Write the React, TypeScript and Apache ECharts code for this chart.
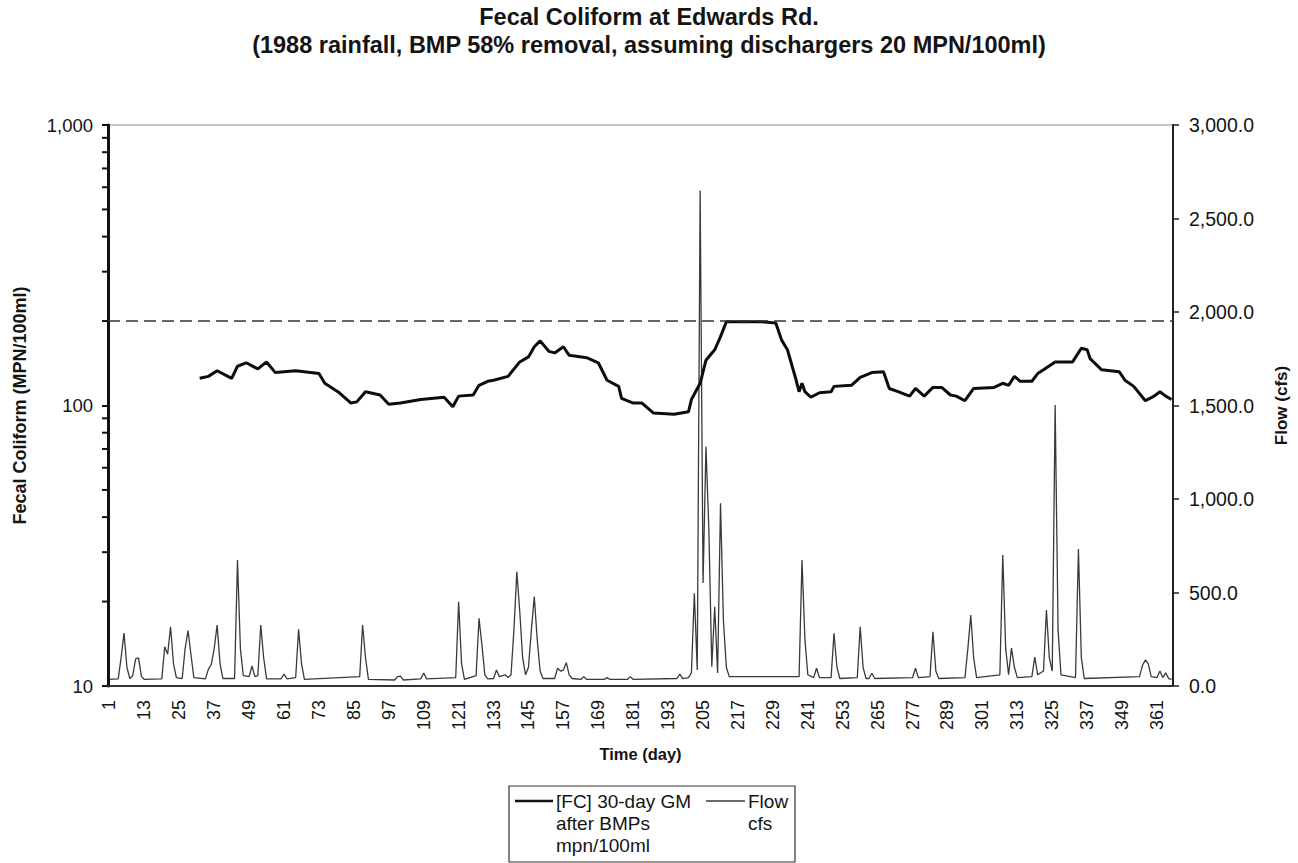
import React, { useEffect, useRef } from "react";
import * as echarts from "echarts";

const TITLE = "Fecal Coliform at Edwards Rd.";
const SUBTITLE = "(1988 rainfall, BMP 58% removal, assuming dischargers 20 MPN/100ml)";
const X_NAME = "Time (day)";
const Y_LEFT_NAME = "Fecal Coliform (MPN/100ml)";
const Y_RIGHT_NAME = "Flow (cfs)";
const FC_NAME = "[FC] 30-day GM\nafter BMPs\nmpn/100ml";
const FLOW_NAME = "Flow\ncfs";

// categories: days of 1988 (leap year)
const DAYS: string[] = Array.from({ length: 366 }, (_, i) => String(i + 1));

// water-quality standard (dashed line)
const STANDARD = 200;

// log-axis minor tick values
const FC_MINOR_TICKS = [20, 30, 40, 50, 60, 70, 80, 90, 200, 300, 400, 500, 600, 700, 800, 900];

// [day, MPN/100ml] 30-day geometric mean after BMPs
const FC_30DAY_GM: [number, number][] = [
  [32, 125], [35, 127], [38, 133], [43, 125], [45, 138], [48, 142], [52, 135], [55, 143], [58, 131], [65, 133],
  [73, 130], [75, 120], [80, 111], [84, 102], [86, 103], [89, 112], [94, 109], [97, 101], [101, 102], [108, 105],
  [116, 107], [119, 99], [121, 108], [126, 109], [128, 118], [131, 122], [133, 123], [138, 127], [142, 143], [145, 149],
  [147, 162], [149, 170], [152, 156], [154, 154], [157, 162], [159, 151], [165, 148], [169, 142], [172, 123], [176, 117],
  [177, 106], [181, 102], [184, 102], [188, 94], [195, 93], [200, 95], [201, 105], [204, 120], [206, 145], [209, 158],
  [211, 176], [213, 199], [225, 199], [230, 197], [232, 171], [234, 158], [237, 123], [238, 112], [239, 120], [240, 112],
  [242, 107], [245, 111], [249, 112], [250, 117], [256, 118], [259, 126], [263, 131], [267, 132], [269, 115], [272, 112],
  [276, 108], [278, 115], [281, 108], [284, 116], [287, 116], [290, 109], [292, 108], [295, 104], [298, 115], [305, 116],
  [308, 120], [310, 118], [312, 127], [314, 122], [318, 122], [320, 130], [322, 134], [326, 143], [332, 143], [335, 160],
  [337, 158], [338, 147], [342, 134], [348, 132], [350, 123], [353, 117], [357, 104], [360, 108], [362, 112], [364, 108],
  [366, 105],
];

// [day, cfs] daily flow
const FLOW_CFS: [number, number][] = [
  [1, 35], [4, 38], [5, 150], [6, 283], [7, 100], [8, 40], [9, 55], [10, 145], [11, 150], [12, 50], [13, 35],
  [19, 38], [20, 210], [21, 170], [22, 317], [23, 120], [24, 45], [26, 40], [27, 200], [28, 296], [29, 170], [30, 45],
  [34, 38], [35, 90], [36, 115], [37, 200], [38, 326], [39, 120], [40, 40], [44, 40], [45, 674], [46, 200], [47, 55],
  [49, 50], [50, 107], [51, 50], [52, 55], [53, 326], [54, 150], [55, 38], [60, 38], [61, 64], [62, 38],
  [65, 45], [66, 303], [67, 120], [68, 35], [87, 50], [88, 326], [89, 150], [90, 35],
  [99, 32], [100, 50], [101, 53], [102, 32], [108, 38], [109, 70], [110, 38],
  [120, 45], [121, 451], [122, 120], [123, 35], [127, 55], [128, 362], [129, 220], [130, 60], [131, 38],
  [133, 40], [134, 86], [135, 50], [137, 60], [138, 45], [139, 60], [140, 300], [141, 611], [142, 400], [143, 150], [144, 60],
  [145, 100], [146, 300], [147, 478], [148, 250], [149, 80], [150, 40], [154, 40], [155, 95], [156, 80], [157, 85], [158, 125],
  [159, 60], [160, 40], [163, 35], [164, 50], [165, 35], [171, 35], [172, 45], [173, 35], [179, 35], [180, 50], [181, 35],
  [196, 40], [197, 63], [198, 40], [200, 45], [201, 70], [202, 496], [203, 86], [204, 2650], [205, 551], [206, 1280],
  [207, 834], [208, 103], [209, 424], [210, 70], [211, 977], [212, 350], [213, 100], [214, 50],
  [238, 50], [239, 674], [240, 250], [241, 60], [243, 45], [244, 95], [245, 45], [249, 45], [250, 282], [251, 100], [252, 40],
  [258, 45], [259, 317], [260, 100], [261, 40], [262, 40], [263, 68], [264, 40], [277, 45], [278, 95], [279, 45],
  [283, 50], [284, 290], [285, 80], [286, 40], [295, 45], [296, 200], [297, 380], [298, 150], [299, 45],
  [307, 60], [308, 700], [309, 200], [310, 60], [311, 203], [312, 100], [313, 45], [318, 50], [319, 155], [320, 60],
  [322, 80], [323, 406], [324, 150], [325, 80], [326, 1503], [327, 300], [328, 60], [333, 45], [334, 733], [335, 150], [336, 40],
  [355, 50], [356, 110], [357, 139], [358, 120], [359, 50], [361, 45], [362, 80], [363, 45], [364, 70], [365, 40], [366, 35],
];

const FONT = '"Liberation Sans", Arial, Helvetica, sans-serif';
const INK = "#141414";

export default function App() {
  const ref = useRef<HTMLDivElement>(null);

  useEffect(() => {
    if (!ref.current) return;
    const chart = echarts.init(ref.current, undefined, { renderer: "svg" });

    const option: any = {
      animation: false,
      backgroundColor: "#ffffff",
      textStyle: { fontFamily: FONT, color: INK },
      title: {
        text: TITLE + "\n" + SUBTITLE,
        left: "center",
        top: 3,
        padding: 0,
        textStyle: { fontFamily: FONT, fontSize: 23.5, fontWeight: "bold", color: INK, lineHeight: 28 },
      },
      grid: {
        left: 108,
        right: 116,
        top: 125,
        bottom: 177,
        show: true,
        borderColor: "#8a8a8a",
        borderWidth: 1,
        backgroundColor: "transparent",
      },
      xAxis: {
        type: "category",
        data: DAYS,
        boundaryGap: true,
        name: X_NAME,
        nameLocation: "middle",
        nameGap: 59,
        nameTextStyle: { fontFamily: FONT, fontSize: 16.5, fontWeight: "bold", color: INK },
        axisLine: { lineStyle: { color: "#333", width: 2 } },
        axisTick: { interval: 9, length: 6, lineStyle: { color: "#333", width: 1 } },
        axisLabel: { interval: 11, rotate: 90, margin: 14, fontSize: 18, color: INK, fontFamily: FONT },
        splitLine: { show: false },
      },
      yAxis: [
        {
          type: "log",
          logBase: 10,
          min: 10,
          max: 1000,
          position: "left",
          name: Y_LEFT_NAME,
          nameLocation: "middle",
          nameGap: 79,
          nameTextStyle: { fontFamily: FONT, fontSize: 18, fontWeight: "bold", color: INK },
          axisLine: { show: true, lineStyle: { color: "#111", width: 3 } },
          axisTick: { show: true, length: 6, lineStyle: { color: "#111", width: 2 } },
          axisLabel: {
            margin: 15,
            fontSize: 18.5,
            color: INK,
            fontFamily: FONT,
            formatter: (v: number) => Number(v).toLocaleString("en-US"),
          },
          splitLine: { show: false },
          minorTick: { show: false },
        },
        {
          type: "value",
          min: 0,
          max: 3000,
          interval: 500,
          position: "right",
          name: Y_RIGHT_NAME,
          nameLocation: "middle",
          nameGap: 100,
          nameTextStyle: { fontFamily: FONT, fontSize: 17, fontWeight: "bold", color: INK },
          axisLine: { show: true, lineStyle: { color: "#222", width: 2 } },
          axisTick: { show: true, length: 6, lineStyle: { color: "#222", width: 1.5 } },
          axisLabel: {
            margin: 16,
            fontSize: 19.5,
            color: INK,
            fontFamily: FONT,
            formatter: (v: number) =>
              Number(v).toLocaleString("en-US", { minimumFractionDigits: 1, maximumFractionDigits: 1 }),
          },
          splitLine: { show: false },
        },
      ],
      series: [
        {
          type: "line",
          name: FLOW_NAME,
          yAxisIndex: 1,
          data: FLOW_CFS.map(([d, v]) => [String(d), v]),
          symbol: "none",
          showSymbol: false,
          lineStyle: { color: "#3a3a3a", width: 1.3 },
          z: 3,
        },
        {
          type: "line",
          name: FC_NAME,
          yAxisIndex: 0,
          data: FC_30DAY_GM.map(([d, v]) => [String(d), v]),
          symbol: "none",
          showSymbol: false,
          lineStyle: { color: "#0d0d0d", width: 3 },
          z: 4,
          markLine: {
            silent: true,
            symbol: "none",
            label: { show: false },
            lineStyle: { color: "#333", width: 1.6, type: [12, 6] },
            data: [{ yAxis: STANDARD }],
          },
        },
        {
          type: "custom",
          name: "log minor ticks",
          yAxisIndex: 0,
          silent: true,
          clip: false,
          z: 6,
          data: FC_MINOR_TICKS.map((v) => [DAYS[0], v]),
          encode: { x: 0, y: 1 },
          renderItem: (params: any, api: any) => {
            const y = api.coord([0, api.value(1)])[1];
            const x = params.coordSys.x;
            return {
              type: "line",
              shape: { x1: x - 6, y1: y, x2: x, y2: y },
              style: { stroke: "#111", lineWidth: 2 },
            };
          },
        },
      ],
      graphic: [
        {
          type: "rect",
          shape: { x: 509, y: 786, width: 286, height: 76 },
          style: { fill: "#fff", stroke: "#333", lineWidth: 1.2 },
          z: 10,
        },
        {
          type: "line",
          shape: { x1: 515, y1: 801, x2: 553, y2: 801 },
          style: { stroke: "#111", lineWidth: 2.5 },
          z: 11,
        },
        {
          type: "text",
          x: 556,
          y: 790,
          style: { text: FC_NAME, fontFamily: FONT, fontSize: 19, lineHeight: 22, fill: INK, verticalAlign: "top" },
          z: 11,
        },
        {
          type: "line",
          shape: { x1: 706, y1: 801, x2: 745, y2: 801 },
          style: { stroke: "#3a3a3a", lineWidth: 1.5 },
          z: 11,
        },
        {
          type: "text",
          x: 748,
          y: 790,
          style: { text: FLOW_NAME, fontFamily: FONT, fontSize: 19, lineHeight: 22, fill: INK, verticalAlign: "top" },
          z: 11,
        },
      ],
    };

    chart.setOption(option);
    return () => chart.dispose();
  }, []);

  return (
    <div
      ref={ref}
      style={{ position: "absolute", left: 0, top: 0, width: 1298, height: 863, background: "#fff" }}
    />
  );
}
